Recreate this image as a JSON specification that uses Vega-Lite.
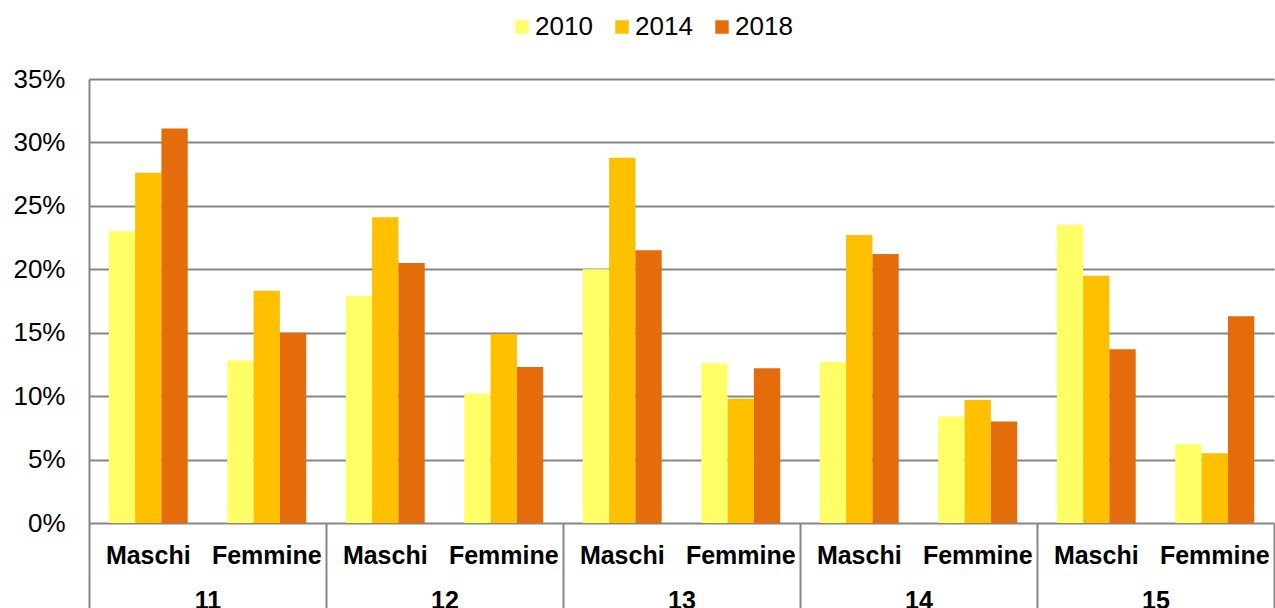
{
  "$schema": "https://vega.github.io/schema/vega-lite/v6.json",
  "autosize": {"type": "none"},
  "padding": {"left": 89, "top": 79, "right": 1, "bottom": 85},
  "width": 1185,
  "height": 444,
  "background": "white",
  "config": {
    "view": {"stroke": null},
    "font": "Liberation Sans"
  },
  "data": {
    "values": [
      {"age": "11", "sex": "Maschi", "key": "11 Maschi", "year": "2010", "value": 0.230},
      {"age": "11", "sex": "Maschi", "key": "11 Maschi", "year": "2014", "value": 0.276},
      {"age": "11", "sex": "Maschi", "key": "11 Maschi", "year": "2018", "value": 0.311},
      {"age": "11", "sex": "Femmine", "key": "11 Femmine", "year": "2010", "value": 0.128},
      {"age": "11", "sex": "Femmine", "key": "11 Femmine", "year": "2014", "value": 0.183},
      {"age": "11", "sex": "Femmine", "key": "11 Femmine", "year": "2018", "value": 0.150},
      {"age": "12", "sex": "Maschi", "key": "12 Maschi", "year": "2010", "value": 0.179},
      {"age": "12", "sex": "Maschi", "key": "12 Maschi", "year": "2014", "value": 0.241},
      {"age": "12", "sex": "Maschi", "key": "12 Maschi", "year": "2018", "value": 0.205},
      {"age": "12", "sex": "Femmine", "key": "12 Femmine", "year": "2010", "value": 0.102},
      {"age": "12", "sex": "Femmine", "key": "12 Femmine", "year": "2014", "value": 0.149},
      {"age": "12", "sex": "Femmine", "key": "12 Femmine", "year": "2018", "value": 0.123},
      {"age": "13", "sex": "Maschi", "key": "13 Maschi", "year": "2010", "value": 0.200},
      {"age": "13", "sex": "Maschi", "key": "13 Maschi", "year": "2014", "value": 0.288},
      {"age": "13", "sex": "Maschi", "key": "13 Maschi", "year": "2018", "value": 0.215},
      {"age": "13", "sex": "Femmine", "key": "13 Femmine", "year": "2010", "value": 0.126},
      {"age": "13", "sex": "Femmine", "key": "13 Femmine", "year": "2014", "value": 0.098},
      {"age": "13", "sex": "Femmine", "key": "13 Femmine", "year": "2018", "value": 0.122},
      {"age": "14", "sex": "Maschi", "key": "14 Maschi", "year": "2010", "value": 0.127},
      {"age": "14", "sex": "Maschi", "key": "14 Maschi", "year": "2014", "value": 0.227},
      {"age": "14", "sex": "Maschi", "key": "14 Maschi", "year": "2018", "value": 0.212},
      {"age": "14", "sex": "Femmine", "key": "14 Femmine", "year": "2010", "value": 0.084},
      {"age": "14", "sex": "Femmine", "key": "14 Femmine", "year": "2014", "value": 0.097},
      {"age": "14", "sex": "Femmine", "key": "14 Femmine", "year": "2018", "value": 0.080},
      {"age": "15", "sex": "Maschi", "key": "15 Maschi", "year": "2010", "value": 0.235},
      {"age": "15", "sex": "Maschi", "key": "15 Maschi", "year": "2014", "value": 0.195},
      {"age": "15", "sex": "Maschi", "key": "15 Maschi", "year": "2018", "value": 0.137},
      {"age": "15", "sex": "Femmine", "key": "15 Femmine", "year": "2010", "value": 0.062},
      {"age": "15", "sex": "Femmine", "key": "15 Femmine", "year": "2014", "value": 0.055},
      {"age": "15", "sex": "Femmine", "key": "15 Femmine", "year": "2018", "value": 0.163}
    ]
  },
  "layer": [
    {
      "mark": {"type": "bar"},
      "encoding": {
        "x": {
          "field": "key",
          "type": "nominal",
          "scale": {
            "domain": ["11 Maschi", "11 Femmine", "12 Maschi", "12 Femmine", "13 Maschi", "13 Femmine", "14 Maschi", "14 Femmine", "15 Maschi", "15 Femmine"],
            "paddingInner": 0.334,
            "paddingOuter": 0.167
          },
          "axis": {
            "orient": "bottom",
            "title": null,
            "labelExpr": "split(datum.label, ' ')[1]",
            "labelAngle": 0,
            "ticks": false,
            "domain": false,
            "grid": false,
            "labelPadding": 20,
            "labelFontSize": 25,
            "labelFontWeight": "bold",
            "labelColor": "black"
          }
        },
        "xOffset": {
          "field": "year",
          "type": "nominal",
          "scale": {"paddingInner": 0, "paddingOuter": 0}
        },
        "y": {
          "field": "value",
          "type": "quantitative",
          "scale": {"domain": [0, 0.35]},
          "axis": {
            "title": null,
            "values": [0, 0.05, 0.1, 0.15, 0.2, 0.25, 0.3, 0.35],
            "format": ".0%",
            "labelFontSize": 26,
            "labelColor": "black",
            "labelPadding": 24,
            "ticks": false,
            "domain": true,
            "domainColor": "#868686",
            "domainWidth": 2,
            "grid": true,
            "gridColor": "#868686",
            "gridWidth": 2
          }
        },
        "color": {
          "field": "year",
          "type": "nominal",
          "scale": {"domain": ["2010", "2014", "2018"], "range": ["#FFFF66", "#FFC000", "#E46C0A"]},
          "legend": {
            "title": null,
            "orient": "none",
            "direction": "horizontal",
            "legendX": 420,
            "legendY": -65,
            "symbolType": "square",
            "symbolSize": 180,
            "symbolStrokeWidth": 0,
            "symbolOpacity": 1,
            "labelFontSize": 26,
            "labelColor": "black",
            "labelOffset": 0,
            "columnPadding": 16
          }
        }
      }
    },
    {
      "mark": {"type": "bar", "opacity": 0},
      "encoding": {
        "x": {
          "field": "age",
          "type": "nominal",
          "scale": {"paddingInner": 0, "paddingOuter": 0},
          "axis": {
            "orient": "bottom",
            "title": null,
            "labelAngle": 0,
            "domain": false,
            "grid": false,
            "ticks": true,
            "tickBand": "extent",
            "tickSize": 85,
            "tickWidth": 2,
            "tickColor": "#868686",
            "labelPadding": -20,
            "labelFontSize": 25,
            "labelFontWeight": "bold",
            "labelColor": "black"
          }
        },
        "y": {
          "field": "value",
          "type": "quantitative",
          "axis": {
            "title": null,
            "values": [0, 0.05, 0.1, 0.15, 0.2, 0.25, 0.3, 0.35],
            "format": ".0%",
            "labelFontSize": 26,
            "labelColor": "black",
            "labelPadding": 24,
            "ticks": false,
            "domain": true,
            "domainColor": "#868686",
            "domainWidth": 2,
            "grid": true,
            "gridColor": "#868686",
            "gridWidth": 2
          }
        }
      }
    }
  ],
  "resolve": {"scale": {"x": "independent"}, "axis": {"x": "independent"}}
}
